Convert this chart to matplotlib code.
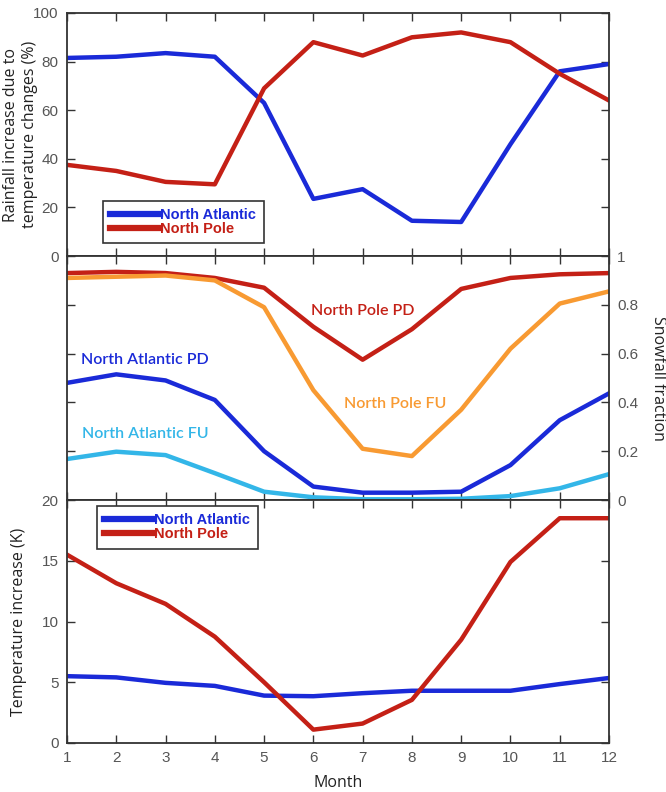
import numpy as np
import matplotlib
matplotlib.use('Agg')
import matplotlib.pyplot as plt

months = list(range(1, 13))

# rainfall increase due to temperature changes (%)
rain_na = [81.5, 82, 83.5, 82, 63, 23.5, 27.5, 14.5, 14, 46, 76, 79]
rain_np = [37.5, 35, 30.5, 29.5, 69, 88, 82.5, 90, 92, 88, 75, 64]

# snowfall fraction
snow_np_pd = [0.93, 0.935, 0.93, 0.91, 0.87, 0.71, 0.575, 0.70, 0.865, 0.91, 0.925, 0.93]
snow_np_fu = [0.91, 0.915, 0.92, 0.90, 0.79, 0.45, 0.21, 0.18, 0.37, 0.62, 0.805, 0.855]
snow_na_pd = [0.48, 0.515, 0.49, 0.41, 0.20, 0.055, 0.03, 0.03, 0.034, 0.143, 0.327, 0.437]
snow_na_fu = [0.168, 0.198, 0.184, 0.11, 0.034, 0.011, 0.003, 0.003, 0.005, 0.016, 0.048, 0.106]

# temperature increase (K)
temp_na = [5.5, 5.4, 4.95, 4.7, 3.9, 3.85, 4.1, 4.3, 4.3, 4.3, 4.85, 5.35]
temp_np = [15.5, 13.15, 11.45, 8.75, 5.0, 1.1, 1.6, 3.55, 8.5, 14.9, 18.5, 18.5]

BLUE = '#1a2ad8'
RED = '#c42016'
ORANGE = '#f89a32'
LBLUE = '#33b6e8'
SPINE = '#333333'
TICKC = '#555555'
LABC = '#222222'

plt.rcParams['font.family'] = ['Liberation Sans Narrow', 'Liberation Sans', 'DejaVu Sans']

fig = plt.figure(figsize=(6.66, 7.92), dpi=100)
L, W = 67 / 666, 542 / 666
H = 243 / 792
ax1 = fig.add_axes([L, 536 / 792, W, H])
ax2 = fig.add_axes([L, 292 / 792, W, H + 1 / 792])
ax3 = fig.add_axes([L, 49 / 792, W, H])

for ax in (ax1, ax2, ax3):
    ax.set_xlim(1, 12)
    ax.set_xticks(months)
    for s in ax.spines.values():
        s.set_color(SPINE)
        s.set_linewidth(1.3)
    ax.tick_params(direction='in', length=6, width=1, color=SPINE,
                   top=True, right=True, labelsize=11, labelcolor=TICKC, pad=6)
ax1.tick_params(labelbottom=False)
ax2.tick_params(labelbottom=False, labelleft=False, labelright=True)

lw = 3.2
lab = dict(family='Open Sans', fontsize=11.5, color=LABC, va='center', ha='center')

# top panel
ax1.plot(months, rain_na, color=BLUE, lw=lw, label='North Atlantic')
ax1.plot(months, rain_np, color=RED, lw=lw, label='North Pole')
ax1.set_ylim(0, 100)
ax1.set_yticks(range(0, 101, 20))
ax1.set_ylabel('Rainfall increase due to\ntemperature changes (%)', linespacing=1.25, **lab)
ax1.yaxis.set_label_coords(-0.085, 0.5)

# middle panel
ax2.plot(months, snow_np_pd, color=RED, lw=lw)
ax2.plot(months, snow_np_fu, color=ORANGE, lw=lw)
ax2.plot(months, snow_na_pd, color=BLUE, lw=lw)
ax2.plot(months, snow_na_fu, color=LBLUE, lw=lw)
ax2.set_ylim(0, 1)
ax2.set_yticks([0, 0.2, 0.4, 0.6, 0.8, 1])
ax2.set_yticklabels(['0', '0.2', '0.4', '0.6', '0.8', '1'])
ax2.yaxis.set_label_position('right')
ax2.set_ylabel('Snowfall fraction', rotation=-90, **lab)
ax2.yaxis.set_label_coords(1.09, 0.5)
tk = dict(family='Lato', fontsize=11.5, fontweight='semibold')
ax2.text(7, 0.775, 'North Pole PD', color=RED, ha='center', va='center', **tk)
ax2.text(7.66, 0.393, 'North Pole FU', color=ORANGE, ha='center', va='center', **tk)
ax2.text(1.28, 0.573, 'North Atlantic PD', color=BLUE, ha='left', va='center', **tk)
ax2.text(1.3, 0.269, 'North Atlantic FU', color=LBLUE, ha='left', va='center', **tk)

# bottom panel
ax3.plot(months, temp_na, color=BLUE, lw=lw, label='North Atlantic')
ax3.plot(months, temp_np, color=RED, lw=lw, label='North Pole')
ax3.set_ylim(0, 20)
ax3.set_yticks(range(0, 21, 5))
ax3.set_ylabel('Temperature increase (K)', **lab)
ax3.yaxis.set_label_coords(-0.088, 0.5)
ax3.set_xlabel('Month', **lab)
ax3.xaxis.set_label_coords(0.5, -0.165)

leg_kw = dict(frameon=True, fancybox=False, edgecolor=SPINE, framealpha=1,
              handlelength=3.4, handletextpad=0.05, labelspacing=0.0,
              borderpad=0.5, borderaxespad=0,
              prop={'family': 'Liberation Sans', 'weight': 'bold', 'size': 10.5})
leg1 = ax1.legend(loc='lower left', bbox_to_anchor=(0.066, 0.053), **leg_kw)
leg3 = ax3.legend(loc='upper left', bbox_to_anchor=(0.055, 0.975), **leg_kw)
for leg in (leg1, leg3):
    leg.get_frame().set_linewidth(1.2)
    for ln in leg.get_lines():
        ln.set_linewidth(4.5)
    for t, c in zip(leg.get_texts(), (BLUE, RED)):
        t.set_color(c)

fig.savefig('out.png', dpi=100)
